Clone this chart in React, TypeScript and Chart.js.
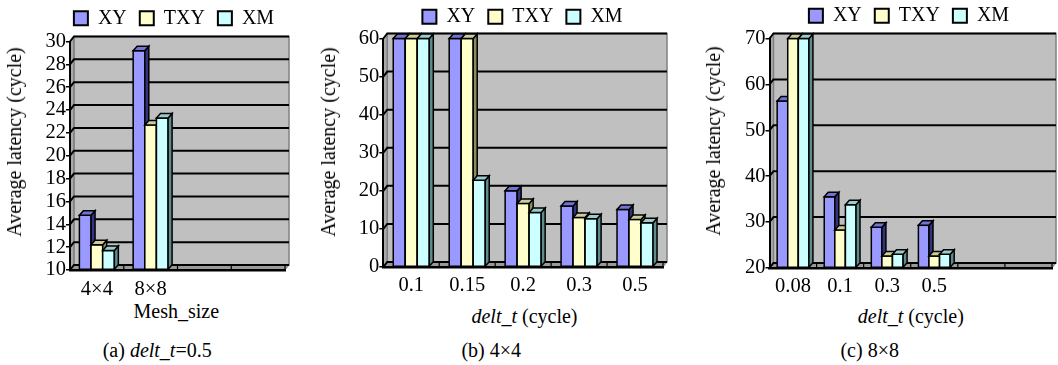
import React, { useEffect, useRef } from 'react';
import { Chart, registerables } from 'chart.js';

Chart.register(...registerables);

// ---------- data ----------
const seriesNames = ['XY', 'TXY', 'XM'];

// (a) delt_t = 0.5
const meshCategories = ['4×4', '8×8', '', ''];
const meshXY = [14.8, 29.2, null, null];
const meshTXY = [12.2, 22.7, null, null];
const meshXM = [11.7, 23.3, null, null];
const meshYMin = 10;
const meshYMax = 30;
const meshYStep = 2;

// (b) 4×4
const delt4Categories = ['0.1', '0.15', '0.2', '0.3', '0.5'];
const delt4XY = [60, 60, 20.0, 16.0, 15.1];
const delt4TXY = [60, 60, 16.7, 13.0, 12.5];
const delt4XM = [60, 22.8, 14.3, 12.7, 11.6];
const delt4YMin = 0;
const delt4YMax = 60;
const delt4YStep = 10;

// (c) 8×8
const delt8Categories = ['0.08', '0.1', '0.3', '0.5', '', ''];
const delt8XY = [56.4, 35.5, 28.9, 29.3, null, null];
const delt8TXY = [70, 28.3, 22.6, 22.6, null, null];
const delt8XM = [70, 33.8, 23.0, 23.0, null, null];
const delt8YMin = 20;
const delt8YMax = 70;
const delt8YStep = 10;

// ---------- styles ----------
const SERIF = "'Liberation Serif', 'Times New Roman', serif";
const frontColors = ['#9999FF', '#FFFFCC', '#CCFFFF'];
const topColors = ['#7373d6', '#cccc99', '#99cccc'];
const sideColors = ['#333380', '#8c8c5e', '#5e8c8c'];

const CANVAS_TOP = -10;
const CANVAS_H = 310;
const LEGEND_PAD = 13;
const FONT_SIZE = 20;
const TICK_SIZE = 20.5;

type PanelSpec = {
  categories: string[];
  series: (number | null)[][];
  yMin: number;
  yMax: number;
  yStep: number;
  canvasLeft: number;
  canvasWidth: number;
  plotLeft: number;
  plotRight: number;
  plotTop: number;
  plotBottom: number;
  legendCx: number;
  legendCy: number;
  catPct: number;
  tickPad: number;
};

const panels: PanelSpec[] = [
  {
    categories: meshCategories,
    series: [meshXY, meshTXY, meshXM],
    yMin: meshYMin, yMax: meshYMax, yStep: meshYStep,
    canvasLeft: 0, canvasWidth: 300,
    plotLeft: 70, plotRight: 285, plotTop: 41.5, plotBottom: 270,
    legendCx: 174, legendCy: 18.3, catPct: 0.65, tickPad: 7,
  },
  {
    categories: delt4Categories,
    series: [delt4XY, delt4TXY, delt4XM],
    yMin: delt4YMin, yMax: delt4YMax, yStep: delt4YStep,
    canvasLeft: 300, canvasWidth: 380,
    plotLeft: 383.3, plotRight: 663, plotTop: 38.5, plotBottom: 267,
    legendCx: 522.5, legendCy: 16.7, catPct: 0.644, tickPad: 6,
  },
  {
    categories: delt8Categories,
    series: [delt8XY, delt8TXY, delt8XM],
    yMin: delt8YMin, yMax: delt8YMax, yStep: delt8YStep,
    canvasLeft: 680, canvasWidth: 378,
    plotLeft: 769.5, plotRight: 1052, plotTop: 38.5, plotBottom: 268,
    legendCx: 909, legendCy: 15.8, catPct: 0.675, tickPad: 6,
  },
];

function poly(ctx: CanvasRenderingContext2D, pts: number[][], fill: string) {
  ctx.beginPath();
  ctx.moveTo(pts[0][0], pts[0][1]);
  for (let i = 1; i < pts.length; i++) ctx.lineTo(pts[i][0], pts[i][1]);
  ctx.closePath();
  ctx.fillStyle = fill;
  ctx.fill();
  ctx.stroke();
}

function Panel({ spec }: { spec: PanelSpec }) {
  const ref = useRef<HTMLCanvasElement>(null);
  useEffect(() => {
    const canvas = ref.current;
    if (!canvas) return;
    const toCx = (x: number) => x - spec.canvasLeft;
    const toCy = (y: number) => y - CANVAS_TOP;
    const WDX = 4;
    const WDY = 5;
    const BDX = 4;
    const BDY = 4.5;

    const plugin = {
      id: 'excel3d',
      afterLayout(chart: any) {
        const lg = chart.legend;
        if (!lg) return;
        const dy = toCy(spec.legendCy) - (lg.top + LEGEND_PAD + FONT_SIZE / 2);
        lg.top += dy;
        lg.bottom += dy;
        const dx = toCx(spec.legendCx) - (lg.left + lg.right) / 2;
        lg.left += dx;
        lg.right += dx;
      },
      beforeDraw(chart: any) {
        const ctx: CanvasRenderingContext2D = chart.ctx;
        const { left, right, top, bottom } = chart.chartArea;
        ctx.save();
        ctx.lineWidth = 1;
        ctx.strokeStyle = '#808080';
        ctx.fillStyle = '#c0c0c0';
        ctx.fillRect(left + WDX, top - WDY, right - left, bottom - top);
        poly(ctx, [[left, top], [left + WDX, top - WDY], [left + WDX, bottom - WDY], [left, bottom]], '#a9a9a9');
        poly(ctx, [[left, bottom], [left + WDX, bottom - WDY], [right + WDX, bottom - WDY], [right, bottom]], '#9a9a9a');
        ctx.lineWidth = 1.5;
        ctx.strokeRect(left + WDX, top - WDY, right - left, bottom - top);
        const ys = chart.scales.y;
        ctx.strokeStyle = '#000';
        ctx.lineWidth = 2;
        ys.ticks.forEach((t: any) => {
          const py = ys.getPixelForValue(t.value);
          ctx.beginPath();
          ctx.moveTo(left, py);
          ctx.lineTo(left + WDX, py - WDY);
          ctx.lineTo(right + WDX, py - WDY);
          ctx.stroke();
        });
        const xs = chart.scales.x;
        const n = chart.data.labels.length;
        ctx.lineWidth = 1.2;
        for (let i = 0; i <= n; i++) {
          const px = xs.getPixelForValue(i - 0.5);
          ctx.beginPath();
          ctx.moveTo(px, bottom);
          ctx.lineTo(px, bottom - 5);
          ctx.stroke();
        }
        ctx.restore();
      },
      afterDatasetsDraw(chart: any) {
        const ctx: CanvasRenderingContext2D = chart.ctx;
        const bottomEdge = chart.chartArea.bottom;
        ctx.save();
        ctx.strokeStyle = '#000';
        ctx.lineWidth = 1.5;
        ctx.lineJoin = 'miter';
        chart.data.datasets.forEach((ds: any, di: number) => {
          const meta = chart.getDatasetMeta(di);
          meta.data.forEach((el: any, i: number) => {
            const v = ds.data[i];
            if (v === null || v === undefined) return;
            const props = el.getProps(['x', 'y', 'base', 'width'], true);
            const { x, y, width } = props;
            const base = Math.min(props.base, bottomEdge);
            if (!isFinite(y)) return;
            const l = x - width / 2;
            const r = x + width / 2;
            ctx.fillStyle = frontColors[di];
            ctx.fillRect(l, y, width, base - y);
            ctx.strokeRect(l, y, width, base - y);
            poly(ctx, [[r, y], [r + BDX, y - BDY], [r + BDX, base - BDY], [r, base]], sideColors[di]);
            poly(ctx, [[l, y], [l + BDX, y - BDY], [r + BDX, y - BDY], [r, y]], topColors[di]);
          });
        });
        ctx.restore();
      },
    };

    const font = { family: SERIF, size: FONT_SIZE };
    const tickFont = { family: SERIF, size: TICK_SIZE };
    const chart = new Chart(canvas, {
      type: 'bar',
      data: {
        labels: spec.categories,
        datasets: spec.series.map((d, i) => ({
          label: seriesNames[i],
          data: d,
          base: spec.yMin,
          backgroundColor: frontColors[i],
          borderColor: '#000',
          borderWidth: 2,
          barPercentage: 1,
          categoryPercentage: spec.catPct,
        })),
      },
      options: {
        responsive: false,
        animation: false,
        devicePixelRatio: 1,
        layout: {
          padding: {
            top: toCy(spec.plotTop) - (FONT_SIZE + LEGEND_PAD + 10),
            right: spec.canvasLeft + spec.canvasWidth - spec.plotRight,
            left: 0,
            bottom: 0,
          },
        },
        plugins: {
          tooltip: { enabled: false },
          legend: {
            display: true,
            position: 'top',
            labels: {
              font,
              color: '#000',
              boxWidth: 14,
              boxHeight: 14,
              padding: LEGEND_PAD,
            },
          },
        },
        scales: {
          x: {
            type: 'category',
            grid: { display: false, drawTicks: false, tickLength: 0 },
            border: { display: true, color: '#000', width: 2.5 },
            ticks: { font: tickFont, color: '#000', padding: spec.tickPad, autoSkip: false, maxRotation: 0 },
            afterFit: (s: any) => { s.height = CANVAS_H - toCy(spec.plotBottom); },
          },
          y: {
            type: 'linear',
            min: spec.yMin,
            max: spec.yMax,
            grid: { display: true, drawOnChartArea: false, drawTicks: true, tickLength: 4, color: '#000', lineWidth: 1.5 },
            border: { display: true, color: '#000', width: 2 },
            ticks: { font: tickFont, color: '#000', padding: 0, stepSize: spec.yStep, autoSkip: false },
            afterFit: (s: any) => { s.width = spec.plotLeft - spec.canvasLeft; },
          },
        },
      },
      plugins: [plugin],
    } as any);
    return () => chart.destroy();
  }, [spec]);
  return (
    <canvas
      ref={ref}
      width={spec.canvasWidth}
      height={CANVAS_H}
      style={{ position: 'absolute', left: spec.canvasLeft, top: CANVAS_TOP, width: spec.canvasWidth, height: CANVAS_H }}
    />
  );
}

function Txt({ cx, cy, rotate, children }: { cx: number; cy: number; rotate?: boolean; children: React.ReactNode }) {
  return (
    <div
      style={{
        position: 'absolute',
        left: cx,
        top: cy,
        transform: `translate(-50%, -50%)${rotate ? ' rotate(-90deg)' : ''}`,
        whiteSpace: 'nowrap',
        fontFamily: SERIF,
        fontSize: FONT_SIZE,
        lineHeight: '22px',
        color: '#000',
      }}
    >
      {children}
    </div>
  );
}

export default function App() {
  return (
    <div style={{ position: 'absolute', left: 0, top: 0, width: 1058, height: 365, background: '#fff', overflow: 'hidden' }}>
      {panels.map((p, i) => (
        <Panel key={i} spec={p} />
      ))}
      <Txt cx={14} cy={141.5} rotate>Average latency (cycle)</Txt>
      <Txt cx={328.2} cy={141.7} rotate>Average latency (cycle)</Txt>
      <Txt cx={713.2} cy={140.5} rotate>Average latency (cycle)</Txt>

      <Txt cx={176.3} cy={311}>Mesh_size</Txt>
      <Txt cx={524.5} cy={316.3}><i>delt_t</i> (cycle)</Txt>
      <Txt cx={910.8} cy={316}><i>delt_t</i> (cycle)</Txt>

      <Txt cx={157.2} cy={349.6}>(a) <i>delt_t</i>=0.5</Txt>
      <Txt cx={491.2} cy={349.5}>(b) 4×4</Txt>
      <Txt cx={869.7} cy={349.5}>(c) 8×8</Txt>
    </div>
  );
}
